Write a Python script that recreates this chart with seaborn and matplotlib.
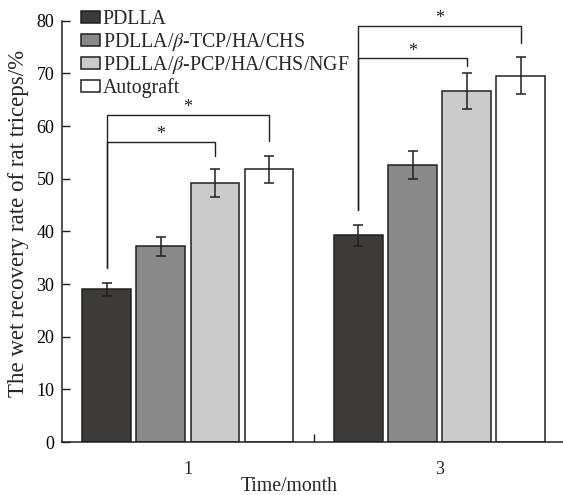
import pandas as pd
import matplotlib
matplotlib.use("Agg")
import matplotlib.pyplot as plt
import seaborn as sns

# ======================
# data

months = ["1", "3"]
groups = ["PDLLA",
          "PDLLA/$\\beta$-TCP/HA/CHS",
          "PDLLA/$\\beta$-PCP/HA/CHS/NGF",
          "Autograft"]
month1_mean = [29.0, 37.2, 49.2, 51.8]
month1_sd = [1.25, 1.8, 2.65, 2.6]
month3_mean = [39.3, 52.6, 66.7, 69.6]
month3_sd = [2.0, 2.7, 3.4, 3.55]

colors = ["#3d3a39", "#898989", "#cbcbcb", "#ffffff"]
ink = "#231f20"

# ======================

rows = []
for m, means in zip(months, [month1_mean, month3_mean]):
    for g, v in zip(groups, means):
        rows.append({"month": m, "group": g, "value": v})
df = pd.DataFrame(rows)

sns.set_style("ticks")
plt.rcParams['font.family'] = ['Liberation Serif', 'DejaVu Serif']
plt.rcParams['mathtext.fontset'] = 'stix'

fig = plt.figure(figsize=(5.63, 4.95), dpi=100)
ax = fig.add_axes([0.110, 0.107, 0.890, 0.851])

sns.barplot(data=df, x="month", y="value", hue="group", order=months,
            hue_order=groups, palette=colors, errorbar=None, width=0.86,
            gap=0.1, edgecolor=ink, linewidth=1.1, ax=ax)

# error bars on top of the bars
sds = {m: s for m, s in zip(months, [month1_sd, month3_sd])}
centers = {}
bar_conts = list(ax.containers)
for hi, cont in enumerate(bar_conts):
    for mi, bar in enumerate(cont):
        xc = bar.get_x() + bar.get_width() / 2
        h = bar.get_height()
        centers[(mi, hi)] = (xc, h)
        ax.errorbar(xc, h, yerr=sds[months[mi]][hi], color=ink, lw=1.1,
                    capsize=3.5, capthick=1.1, zorder=5)

# significance brackets
def bracket(mi, h_right, y, left_end, right_end):
    x0 = centers[(mi, 0)][0]
    x1 = centers[(mi, h_right)][0]
    ax.plot([x0, x0, x1, x1], [left_end, y, y, right_end], color=ink,
            lw=1.0, clip_on=False, zorder=6)
    ax.text((x0 + x1) / 2, y - 0.3, "*", ha="center", va="bottom",
            fontsize=13, color=ink, clip_on=False)

bracket(0, 3, 62.2, 33.0, 57.2)
bracket(0, 2, 57.0, 33.0, 54.3)
bracket(1, 3, 79.1, 44.0, 75.8)
bracket(1, 2, 72.9, 44.0, 71.5)

ax.set_xlim(-0.5, 1.49)
ax.set_ylim(0, 80)
ax.set_yticks(range(0, 81, 10))
ax.tick_params(axis="y", direction="in", length=6, width=1.0, colors=ink,
               labelsize=13, labelcolor="black", pad=5.5)
ax.tick_params(axis="x", length=0, labelsize=13, pad=14)
ax.set_xticks([0.5], minor=True)
ax.tick_params(axis="x", which="minor", direction="in", length=6, width=1.0,
               colors=ink)
sns.despine(ax=ax)
for s in ["left", "bottom"]:
    ax.spines[s].set_color(ink)
    ax.spines[s].set_linewidth(1.1)

ax.set_xlabel("Time/month", fontsize=14.2)
ax.xaxis.set_label_coords(0.453, -0.083)
ax.set_ylabel("The wet recovery rate of rat triceps/%", fontsize=16.5)
ax.yaxis.set_label_coords(-0.066, 0.518)

handles, labels = ax.get_legend_handles_labels()
ax.legend(handles, labels, loc="upper left", bbox_to_anchor=(0.023, 1.045),
          frameon=False, fontsize=14.3, handlelength=0.95, handleheight=0.55,
          handletextpad=0.12, labelspacing=0.09, borderaxespad=0)

plt.savefig("out.png", dpi=100)
plt.close()
